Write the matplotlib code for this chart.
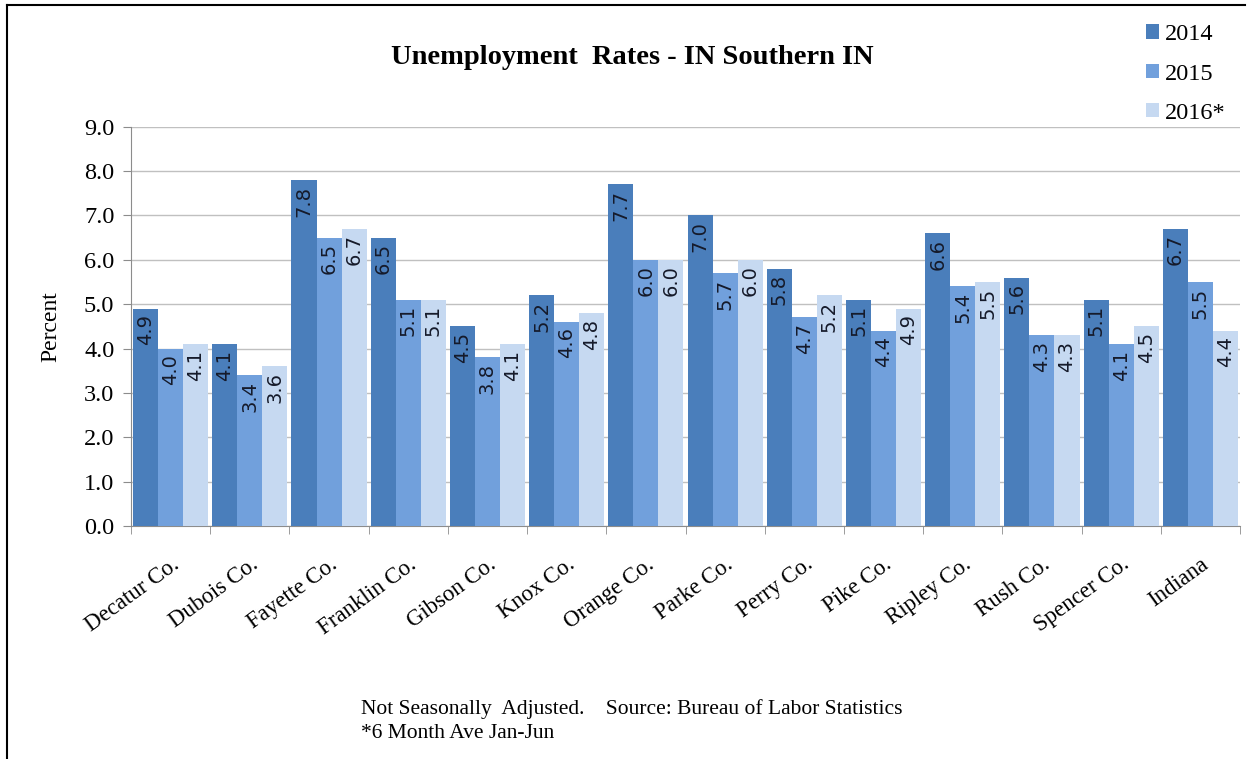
#!/usr/bin/env python3
"""Unemployment rates, Southern Indiana counties - grouped bar chart."""
import matplotlib
matplotlib.use("Agg")
import matplotlib.pyplot as plt
import numpy as np
from matplotlib.lines import Line2D

counties = ["Decatur Co.", "Dubois Co.", "Fayette Co.", "Franklin Co.", "Gibson Co.",
            "Knox Co.", "Orange Co.", "Parke Co.", "Perry Co.", "Pike Co.",
            "Ripley Co.", "Rush Co.", "Spencer Co.", "Indiana"]
rate_2014 = [4.9, 4.1, 7.8, 6.5, 4.5, 5.2, 7.7, 7.0, 5.8, 5.1, 6.6, 5.6, 5.1, 6.7]
rate_2015 = [4.0, 3.4, 6.5, 5.1, 3.8, 4.6, 6.0, 5.7, 4.7, 4.4, 5.4, 4.3, 4.1, 5.5]
rate_2016 = [4.1, 3.6, 6.7, 5.1, 4.1, 4.8, 6.0, 6.0, 5.2, 4.9, 5.5, 4.3, 4.5, 4.4]
series_names = ["2014", "2015", "2016*"]

colors = ["#4A7EBB", "#71A0DC", "#C6D9F1"]
serif = "Liberation Serif"

fig = plt.figure(figsize=(12.5, 7.59), dpi=100)
ax = fig.add_axes([0.1048, 0.307, 0.8872, 0.526])

x = np.arange(len(counties)) + 0.5
bw = 0.316
for i, (vals, name) in enumerate(zip([rate_2014, rate_2015, rate_2016], series_names)):
    pos = x + (i - 1) * bw
    ax.bar(pos, vals, width=bw, color=colors[i], label=name, zorder=3, linewidth=0)
    for px, v in zip(pos, vals):
        ax.annotate(f"{v:.1f}", (px, v), xytext=(0, -4), textcoords="offset points",
                    rotation=90, ha="center", va="top", fontsize=14,
                    color="#151a2a", family="DejaVu Sans", zorder=4)

ax.set_xlim(0, len(counties))
ax.set_ylim(0, 9)
ax.set_yticks(np.arange(0, 9.1, 1.0))
ax.set_yticklabels([f"{v:.1f}" for v in np.arange(0, 9.1, 1.0)], family=serif, fontsize=17.5)
ax.set_xticks(x)
ax.set_xticklabels(counties, rotation=36, ha="right", rotation_mode="anchor",
                   family=serif, fontsize=16.5)
ax.set_xticks(np.arange(0, len(counties) + 1), minor=True)
ax.tick_params(axis="x", which="major", length=0, pad=20)
ax.tick_params(axis="x", which="minor", length=6, color="#8c8c8c")
ax.tick_params(axis="y", length=6, color="#8c8c8c", pad=6)

ax.grid(axis="y", color="#c0c0c0", linewidth=1, zorder=0)
for side in ["top", "right"]:
    ax.spines[side].set_visible(False)
for side in ["left", "bottom"]:
    ax.spines[side].set_color("#8c8c8c")
ax.set_ylabel("Percent", family=serif, fontsize=17, labelpad=16)

fig.text(0.506, 0.924, "Unemployment  Rates - IN Southern IN", ha="center", va="center",
         family=serif, fontsize=20.5, fontweight="bold")

ax.legend(loc="upper right", bbox_to_anchor=(1.0, 1.0), bbox_transform=fig.transFigure,
          frameon=False, prop={"family": serif, "size": 17.5}, handlelength=0.55,
          handleheight=0.55, handletextpad=0.25, labelspacing=0.75, borderaxespad=0.6)

fig.text(0.289, 0.066, "Not Seasonally  Adjusted.    Source: Bureau of Labor Statistics",
         family=serif, fontsize=15.5, va="center")
fig.text(0.289, 0.034, "*6 Month Ave Jan-Jun", family=serif, fontsize=15.5, va="center")

# outer chart frame (left and top edges visible)
fig.add_artist(Line2D([0.0056, 0.0056], [0.0, 0.9934], color="black", lw=1.5,
                      transform=fig.transFigure))
fig.add_artist(Line2D([0.0056, 0.996], [0.9934, 0.9934], color="black", lw=1.5,
                      transform=fig.transFigure))

fig.savefig("out.png", dpi=100)
